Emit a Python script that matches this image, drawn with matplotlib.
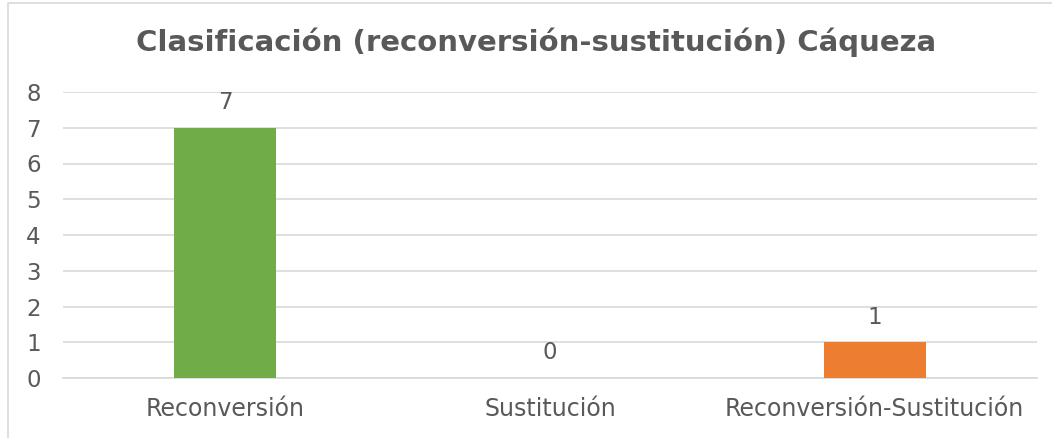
import matplotlib
matplotlib.use("Agg")
import matplotlib.pyplot as plt
from matplotlib.patches import Rectangle

categorias = ["Reconversión", "Sustitución", "Reconversión-Sustitución"]
valores = [7, 0, 1]
colores = ["#70AD47", "#70AD47", "#ED7D31"]

GRIS = "#595959"
LINEA = "#D9D9D9"

plt.rcParams.update({
    "font.family": ["DejaVu Sans"],
    "figure.facecolor": "white",
    "axes.facecolor": "white",
})

fig = plt.figure(figsize=(10.52, 4.38), dpi=100)
ax = fig.add_axes([63 / 1052, 1 - 378 / 438, (1037 - 63) / 1052, (378 - 92) / 438])

# marco del gráfico
fig.add_artist(Rectangle((8 / 1052, -0.05), 1.2, 1 - 3 / 438 + 0.05,
                         transform=fig.transFigure, fill=False,
                         edgecolor=LINEA, linewidth=1.2))

x = range(len(categorias))
ax.bar(x, valores, width=0.315, color=colores, zorder=3)
for xi, v in zip(x, valores):
    ax.text(xi, v + 0.7, str(v), ha="center", va="center",
            fontsize=16.5, color=GRIS)

ax.set_xlim(-0.5, 2.5)
ax.set_ylim(0, 8)
ax.set_yticks(range(0, 9))
ax.set_xticks(list(x))
ax.set_xticklabels(categorias)
ax.tick_params(axis="x", length=0, labelsize=17, labelcolor=GRIS, pad=14)
ax.tick_params(axis="y", length=0, labelsize=16.5, labelcolor=GRIS, pad=26.5)
for lbl in ax.get_yticklabels():
    lbl.set_horizontalalignment("left")
ax.grid(axis="y", color=LINEA, linewidth=1.2, zorder=0)
for s in ["top", "right", "left"]:
    ax.spines[s].set_visible(False)
ax.spines["bottom"].set_color(LINEA)
ax.spines["bottom"].set_linewidth(1.2)

fig.text(536 / 1052, 1 - 42 / 438, "Clasificación (reconversión-sustitución) Cáqueza",
         ha="center", va="center", fontsize=21, fontweight="bold", color=GRIS)

fig.savefig("out.png", dpi=100)
